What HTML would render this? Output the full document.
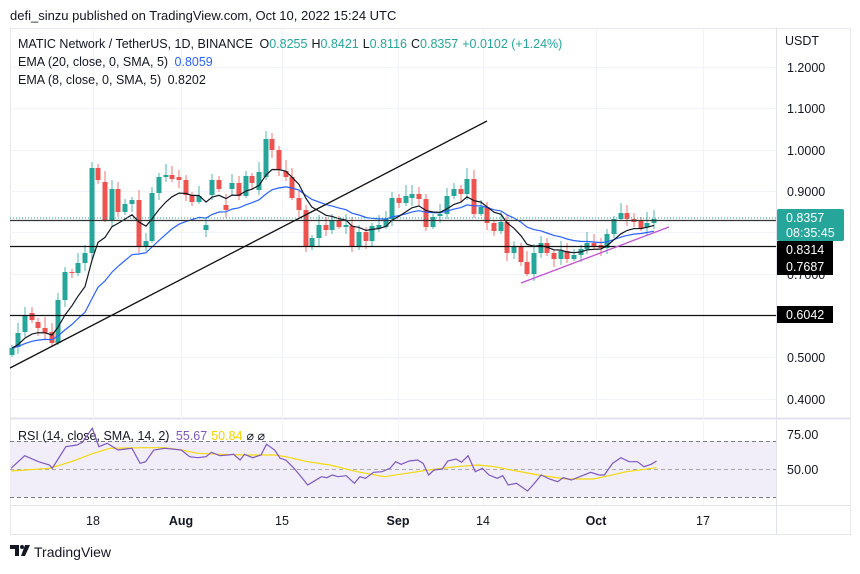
<!DOCTYPE html>
<html><head><meta charset="utf-8"><style>
body{margin:0;background:#fff;width:860px;height:569px;overflow:hidden;font-family:"Liberation Sans",sans-serif}
svg text{font-family:"Liberation Sans",sans-serif}
</style></head><body>
<svg id="s" width="860" height="569" xmlns="http://www.w3.org/2000/svg">
<rect x="0" y="0" width="860" height="569" fill="#fff"/>
<text x="10" y="20" font-size="13" fill="#131722">defi_sinzu published on TradingView.com, Oct 10, 2022 15:24 UTC</text>
<rect x="10.5" y="28.5" width="840" height="506" fill="none" stroke="#e6e8ee"/>
<line x1="776.5" y1="28" x2="776.5" y2="535" stroke="#e0e3eb"/>
<line x1="10" y1="418.5" x2="850" y2="418.5" stroke="#e0e3eb" stroke-width="2"/>
<line x1="10" y1="505.5" x2="850" y2="505.5" stroke="#e0e3eb"/>
<g id="grid" stroke="#f0f3fa"></g>
<rect x="10" y="441" width="766" height="56" fill="#f1eefa"/>
<g stroke="#787b86" stroke-dasharray="4,3" stroke-width="1">
<line x1="10" y1="441.5" x2="776" y2="441.5"/><line x1="10" y1="469.5" x2="776" y2="469.5" stroke="#aaa"/><line x1="10" y1="497.5" x2="776" y2="497.5"/>
</g>
<g id="c"></g>
<line x1="10" y1="218" x2="776" y2="218" stroke="#26a69a" stroke-dasharray="1,2"/>
<line x1="10" y1="220.5" x2="776" y2="220.5" stroke="#333" stroke-width="1.2"/>
<line x1="10" y1="246.5" x2="776" y2="246.5" stroke="#111" stroke-width="1.2"/>
<line x1="10" y1="315.5" x2="776" y2="315.5" stroke="#111" stroke-width="1.2"/>
<line x1="10" y1="368" x2="487" y2="121" stroke="#111" stroke-width="1.3"/>
<line x1="521" y1="283" x2="669" y2="227" stroke="#c24fd6" stroke-width="1.3"/>
<text x="785" y="45" font-size="12.5" fill="#131722">USDT</text>
<g font-size="12.5" fill="#131722">
<text x="787" y="72">1.2000</text><text x="787" y="113">1.1000</text><text x="787" y="155">1.0000</text><text x="787" y="196">0.9000</text><text x="787" y="279">0.7000</text><text x="787" y="362">0.5000</text><text x="787" y="404">0.4000</text>
<text x="787" y="439">75.00</text><text x="787" y="474">50.00</text>
</g>
<rect x="777" y="209" width="67" height="32" rx="2" fill="#26a69a"/>
<text x="786" y="222" font-size="12.5" fill="#fff">0.8357</text>
<text x="786" y="237" font-size="12.5" fill="#fff">08:35:45</text>
<rect x="777" y="241" width="56" height="17" fill="#000"/><text x="786" y="254" font-size="12.5" fill="#fff">0.8314</text>
<rect x="777" y="258" width="56" height="17" fill="#000"/><text x="786" y="271" font-size="12.5" fill="#fff">0.7687</text>
<rect x="777" y="306" width="56" height="17" fill="#000"/><text x="786" y="319" font-size="12.5" fill="#fff">0.6042</text>
<g font-size="12.5" fill="#131722" text-anchor="middle">
<text x="93" y="525">18</text><text x="181" y="525" font-weight="bold">Aug</text><text x="282" y="525">15</text><text x="398" y="525" font-weight="bold">Sep</text><text x="483" y="525">14</text><text x="596" y="525" font-weight="bold">Oct</text><text x="703" y="525">17</text>
</g>
<g font-size="12.5">
<text x="18" y="48" fill="#131722">MATIC Network / TetherUS, 1D, BINANCE <tspan dx="3">O</tspan><tspan fill="#26a69a">0.8255</tspan><tspan dx="4">H</tspan><tspan fill="#26a69a">0.8421</tspan><tspan dx="4">L</tspan><tspan fill="#26a69a">0.8116</tspan><tspan dx="4">C</tspan><tspan fill="#26a69a">0.8357</tspan><tspan dx="4" fill="#26a69a">+0.0102 (+1.24%)</tspan></text>
<text x="18" y="66" fill="#131722">EMA (20, close, 0, SMA, 5) <tspan dx="3" fill="#2962ff">0.8059</tspan></text>
<text x="18" y="84" fill="#131722">EMA (8, close, 0, SMA, 5) <tspan dx="3" fill="#131722">0.8202</tspan></text>
<text x="18" y="440" fill="#131722">RSI (14, close, SMA, 14, 2) <tspan dx="3" fill="#7e57c2">55.67</tspan><tspan dx="4" fill="#f5d100">50.84</tspan><tspan dx="4">⌀ ⌀</tspan></text>
</g>
<g transform="translate(10,545)"><path d="M0 0h9v11h-4v-7h-5z" fill="#131722"/><circle cx="12" cy="2" r="2" fill="#131722"/><path d="M15 0h5l-5 11h-4z" fill="#131722"/></g>
<text x="34" y="557" font-size="14" fill="#131722">TradingView</text>
</svg>
<script>
var NS="http://www.w3.org/2000/svg";
function el(p,t,a){var e=document.createElementNS(NS,t);for(var k in a)e.setAttribute(k,a[k]);p.appendChild(e);return e;}
var g=document.getElementById('grid');
[93,181,282,398,483,596,703].forEach(function(x){el(g,'line',{x1:x+.5,y1:28,x2:x+.5,y2:505});});
[67,108,150,191,232,274,315,357,399].forEach(function(y){el(g,'line',{x1:10,y1:y+.5,x2:776,y2:y+.5});});
var C=[[12,355,348],[18,347,333],[25,332,315],[32,313,320],[38,322,328],[45,328,333],[52,332,343],[58,343,300],[65,300,272],[72,272,273],[78,273,263],[85,263,253],[92,253,168],[98,168,180],[105,182,220],[112,220,189],[118,189,212],[125,212,204],[132,204,200],[139,200,247],[146,247,241],[152,241,193],[159,193,177],[166,177,175],[172,175,179],[179,177,180],[186,180,195],[192,195,202],[199,202,196],[206,230,225],[212,195,180],[219,180,189],[226,205,210],[232,189,183],[239,183,196],[246,196,176],[252,176,183],[259,190,172],[266,177,139],[272,139,150],[279,150,170],[286,171,177],[292,177,198],[299,198,210],[306,210,247],[312,247,238],[319,238,225],[326,225,230],[332,230,220],[339,220,227],[346,227,225],[352,226,247],[359,247,232],[366,232,241],[372,241,226],[379,228,225],[386,227,219],[392,219,198],[399,198,203],[406,203,196],[412,198,194],[419,194,199],[426,199,227],[433,227,217],[440,216,214],[447,214,196],[454,196,189],[461,189,194],[467,194,179],[474,179,214],[481,214,207],[487,207,223],[494,223,231],[501,231,222],[507,222,253],[514,253,247],[521,247,262],[527,262,274],[534,274,253],[541,253,243],[547,243,253],[554,253,259],[561,259,251],[567,251,259],[574,259,255],[581,255,249],[587,249,243],[594,243,247],[601,245,248],[607,248,234],[614,234,219],[621,219,213],[627,213,219],[634,219,222],[641,221,228],[647,227,223],[654,223,219]];
var cg=document.getElementById('c');
C.forEach(function(d,i){var x=d[0],o=d[1],c=d[2];var up=c<=o;var col=up?'#26a69a':'#ef5350';var t=Math.min(o,c),b=Math.max(o,c);
var wt=3+(i*7%9),wb=2+(i*5%7);
el(cg,'line',{x1:x,y1:t-wt,x2:x,y2:b+wb,stroke:col,'stroke-width':1,opacity:.8});
el(cg,'rect',{x:x-2.5,y:t,width:5,height:Math.max(1,b-t),fill:col});});
function ema(n,col){var a=2/(n+1),v=C[0][2],pts=[];C.forEach(function(d){v=v+a*(d[2]-v);pts.push(d[0]+','+v.toFixed(1));});
el(cg,'polyline',{points:pts.join(' '),fill:'none',stroke:col,'stroke-width':1.2});}
ema(20,'#2962ff');ema(8,'#131722');
var s=document.getElementById('s');
function pl(arr,col){el(s,'polyline',{points:arr.map(function(p){return (p[0]/1.82).toFixed(1)+','+(415+p[1]/3).toFixed(1);}).join(' '),fill:'none',stroke:col,'stroke-width':1.2});}
pl([[20,168],[90,160],[130,140],[170,115],[200,100],[260,98],[300,98],[330,105],[360,115],[400,118],[450,120],[500,120],[520,125],[560,140],[600,150],[650,170],[700,185],[740,175],[780,165],[830,155],[870,150],[900,155],[940,168],[980,180],[1030,192],[1080,192],[1100,185],[1140,170],[1195,158]],'#f5d90a');
pl([[20,160],[45,122],[70,140],[90,150],[95,160],[120,95],[140,90],[150,82],[168,40],[180,95],[195,85],[215,105],[240,100],[255,145],[265,140],[280,105],[300,100],[330,105],[345,125],[360,128],[375,125],[385,112],[400,122],[415,120],[425,118],[437,135],[445,118],[460,128],[475,120],[485,88],[500,105],[510,130],[520,135],[535,160],[548,185],[560,210],[570,200],[585,185],[595,188],[605,180],[615,185],[630,182],[645,205],[655,185],[665,190],[680,172],[695,170],[710,160],[720,140],[730,148],[745,138],[760,135],[770,145],[780,180],[790,165],[805,162],[815,138],[830,132],[840,142],[852,122],[865,170],[878,160],[890,180],[905,190],[915,182],[925,210],[940,205],[960,228],[970,210],[985,180],[1000,192],[1015,200],[1025,188],[1040,195],[1055,185],[1075,172],[1090,180],[1100,180],[1115,145],[1130,128],[1145,140],[1160,140],[1172,155],[1185,148],[1195,138]],'#7e57c2');
</script>
</body></html>
